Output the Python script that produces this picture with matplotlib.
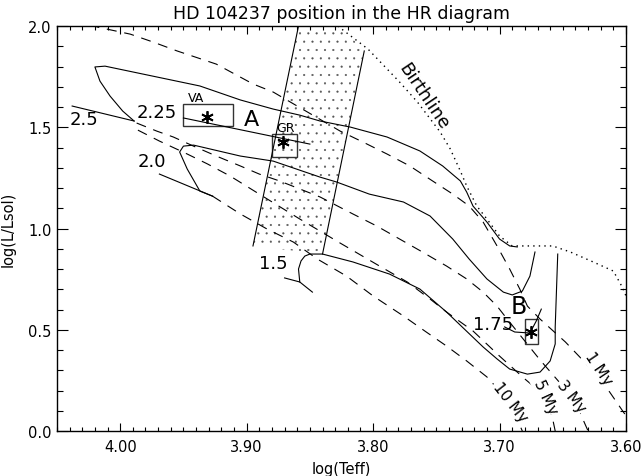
import matplotlib
matplotlib.use('Agg')
import matplotlib.pyplot as plt
from matplotlib.patches import Polygon, Rectangle
from matplotlib.ticker import MultipleLocator, FormatStrFormatter

# evolutionary tracks (log Teff, log L/Lsun)
t25_zams = [4.038, 3.989]
l25_zams = [1.605, 1.531]
t25 = [3.989, 3.998, 4.008, 4.016, 4.020, 4.012, 3.937, 3.905, 3.879, 3.858, 3.842,
       3.818, 3.789, 3.763, 3.745, 3.731, 3.726, 3.721, 3.710, 3.700, 3.692, 3.686]
l25 = [1.531, 1.580, 1.654, 1.728, 1.798, 1.802, 1.704, 1.635, 1.590, 1.560, 1.531,
       1.501, 1.452, 1.383, 1.309, 1.235, 1.180, 1.111, 1.032, 0.948, 0.914, 0.909]

t225 = [3.950, 3.850]
l225 = [1.546, 1.417]

t20_zams = [3.969, 3.927]
l20_zams = [1.269, 1.160]
t20 = [3.927, 3.937, 3.947, 3.953, 3.950, 3.942, 3.905, 3.879, 3.842, 3.829, 3.803,
       3.776, 3.755, 3.737, 3.724, 3.710, 3.697, 3.690, 3.682, 3.676, 3.672]
l20 = [1.160, 1.185, 1.294, 1.378, 1.407, 1.412, 1.358, 1.333, 1.254, 1.230, 1.170,
       1.131, 1.062, 0.948, 0.849, 0.751, 0.686, 0.672, 0.691, 0.765, 0.884]

t15_zams = [3.870, 3.858, 3.848]
l15_zams = [0.756, 0.736, 0.686]
t15 = [3.858, 3.859, 3.857, 3.854, 3.850, 3.840, 3.816, 3.787, 3.763, 3.742, 3.713,
       3.702, 3.692, 3.678, 3.668, 3.660, 3.656, 3.656, 3.654]
l15 = [0.736, 0.800, 0.840, 0.864, 0.874, 0.874, 0.835, 0.775, 0.701, 0.588, 0.415,
       0.356, 0.306, 0.281, 0.291, 0.346, 0.430, 0.514, 0.874]

t175 = [3.696, 3.688, 3.676, 3.671, 3.667]
l175 = [0.514, 0.489, 0.484, 0.543, 0.602]

# isochrones
t_1my = [4.024, 4.018, 3.992, 3.974, 3.955, 3.924, 3.895, 3.879, 3.826, 3.808, 3.789,
         3.771, 3.753, 3.737, 3.724, 3.713, 3.702, 3.692, 3.684, 3.678, 3.668, 3.648,
         3.629, 3.613, 3.601]
l_1my = [2.010, 1.995, 1.960, 1.921, 1.877, 1.812, 1.714, 1.674, 1.481, 1.427, 1.368,
         1.309, 1.235, 1.170, 1.111, 1.032, 0.914, 0.800, 0.701, 0.617, 0.553, 0.440,
         0.316, 0.193, 0.084]
t_3my = [3.987, 3.971, 3.958, 3.942, 3.924, 3.905, 3.890, 3.874, 3.842, 3.816, 3.797,
         3.779, 3.761, 3.742, 3.726, 3.713, 3.702, 3.694, 3.668, 3.648, 3.637, 3.630]
l_3my = [1.521, 1.481, 1.452, 1.407, 1.358, 1.309, 1.269, 1.235, 1.156, 1.072, 1.012,
         0.948, 0.884, 0.815, 0.751, 0.686, 0.617, 0.553, 0.351, 0.207, 0.099, 0.000]
t_5my = [3.986, 3.969, 3.947, 3.931, 3.913, 3.890, 3.858, 3.826, 3.795, 3.773, 3.755,
         3.742, 3.721, 3.700, 3.680, 3.664, 3.658, 3.656]
l_5my = [1.486, 1.432, 1.368, 1.319, 1.259, 1.170, 1.047, 0.928, 0.815, 0.736, 0.652,
         0.588, 0.494, 0.370, 0.257, 0.173, 0.059, 0.000]
t_10my = [3.927, 3.905, 3.884, 3.863, 3.844, 3.821, 3.800, 3.776, 3.758, 3.742, 3.726,
          3.710, 3.692, 3.682]
l_10my = [1.160, 1.072, 0.998, 0.933, 0.849, 0.765, 0.667, 0.568, 0.489, 0.420, 0.346,
          0.267, 0.143, 0.000]

t_birth = [3.828, 3.804, 3.779, 3.765, 3.747, 3.739, 3.731, 3.726, 3.718, 3.710, 3.700,
           3.690, 3.658, 3.644, 3.626, 3.610, 3.603, 3.599]
l_birth = [2.000, 1.886, 1.723, 1.625, 1.477, 1.393, 1.284, 1.210, 1.111, 1.047, 0.963,
           0.914, 0.914, 0.884, 0.835, 0.790, 0.711, 0.652]

# instability strip (shaded band)
t_strip = [3.859, 3.826, 3.807, 3.840, 3.895]
l_strip = [2.000, 2.000, 1.877, 0.874, 0.914]

# positions: VA, GR, B
star_t = [3.931, 3.871, 3.675]
star_l = [1.551, 1.427, 0.489]
box_t = [(3.911, 3.950), (3.860, 3.880), (3.670, 3.680)]
box_l = [(1.506, 1.615), (1.353, 1.467), (0.430, 0.553)]

plt.rcParams['hatch.linewidth'] = 0.3
plt.rcParams['hatch.color'] = '#555555'
fig = plt.figure(figsize=(6.43, 4.77), dpi=100)
ax = fig.add_axes([0.0886, 0.0943, 0.885, 0.849])

lw = 0.8
ax.add_patch(Polygon(list(zip(t_strip, l_strip)), closed=True, facecolor='none',
                     edgecolor='#555555', hatch='..', lw=0))
ax.plot([t_strip[0], t_strip[4]], [l_strip[0], l_strip[4]], 'k-', lw=lw)
ax.plot([t_strip[2], t_strip[3]], [l_strip[2], l_strip[3]], 'k-', lw=lw)

for tx, ly in [(t25_zams, l25_zams), (t25, l25), (t225, l225), (t20_zams, l20_zams),
               (t20, l20), (t15_zams, l15_zams), (t15, l15), (t175, l175)]:
    ax.plot(tx, ly, 'k-', lw=lw)

for tx, ly in [(t_1my, l_1my), (t_3my, l_3my), (t_5my, l_5my), (t_10my, l_10my)]:
    ax.plot(tx, ly, color='k', lw=lw, dashes=(9, 7))

ax.plot(t_birth, l_birth, color='k', lw=1.0, ls=(0, (1, 3)))

for (t0, t1), (l0, l1) in zip(box_t, box_l):
    ax.add_patch(Rectangle((t0, l0), t1 - t0, l1 - l0, fill=False, ec='#333333', lw=1))
ax.plot(star_t, star_l, ls='none', marker=(6, 2, 0), ms=9, mew=1.3, color='k')

ax.text(4.029, 1.541, '2.5', fontsize=13, ha='center', va='center')
ax.text(3.971, 1.575, '2.25', fontsize=13, ha='center', va='center')
ax.text(3.975, 1.333, '2.0', fontsize=13, ha='center', va='center')
ax.text(3.879, 0.830, '1.5', fontsize=13, ha='center', va='center')
ax.text(3.705, 0.528, '1.75', fontsize=13, ha='center', va='center')
ax.text(3.896, 1.541, 'A', fontsize=16, ha='center', va='center')
ax.text(3.685, 0.617, 'B', fontsize=17, ha='center', va='center')
ax.text(3.940, 1.649, 'VA', fontsize=9, ha='center', va='center')
ax.text(3.869, 1.501, 'GR', fontsize=9, ha='center', va='center')
ax.text(3.760, 1.654, 'Birthline', fontsize=13, ha='center', va='center',
        rotation=-56, rotation_mode='anchor')

box = dict(facecolor='white', edgecolor='none', pad=0.5)
ax.text(3.692, 0.143, '10 My', fontsize=11, ha='center', va='center', rotation=-52,
        rotation_mode='anchor', bbox=box)
ax.text(3.664, 0.173, '5 My', fontsize=11, ha='center', va='center', rotation=-65,
        rotation_mode='anchor', bbox=box)
ax.text(3.643, 0.173, '3 My', fontsize=11, ha='center', va='center', rotation=-52,
        rotation_mode='anchor', bbox=box)
ax.text(3.622, 0.311, '1 My', fontsize=11, ha='center', va='center', rotation=-56,
        rotation_mode='anchor', bbox=box)

ax.set_xlim(4.05, 3.60)
ax.set_ylim(0.0, 2.0)
ax.xaxis.set_major_locator(MultipleLocator(0.1))
ax.xaxis.set_minor_locator(MultipleLocator(0.01))
ax.yaxis.set_major_locator(MultipleLocator(0.5))
ax.yaxis.set_minor_locator(MultipleLocator(0.1))
ax.xaxis.set_major_formatter(FormatStrFormatter('%.2f'))
ax.yaxis.set_major_formatter(FormatStrFormatter('%.1f'))
ax.tick_params(which='both', direction='in', top=True, right=True, labelsize=10.5, width=0.8)
ax.tick_params(axis='x', which='major', length=6, pad=6)
ax.tick_params(axis='x', which='minor', length=3)
ax.tick_params(axis='y', which='major', length=8, pad=4)
ax.tick_params(axis='y', which='minor', length=4)
for s in ax.spines.values():
    s.set_linewidth(1.0)

ax.set_xlabel('log(Teff)', fontsize=10.5, labelpad=5)
ax.set_ylabel('log(L/Lsol)', fontsize=10.5, labelpad=9)
ax.set_title('HD 104237 position in the HR diagram', fontsize=12.5, pad=6)

fig.savefig('out.png', dpi=100)
